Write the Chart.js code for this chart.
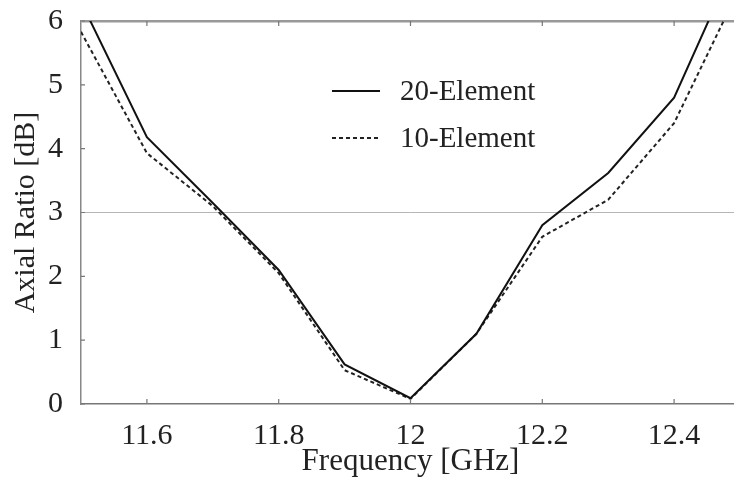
<!DOCTYPE html>
<html>
<head>
<meta charset="utf-8">
<script src="https://cdn.jsdelivr.net/npm/chart.js@4"></script>
<style>
  html, body { margin: 0; padding: 0; background: #fff; overflow: hidden; }
  #wrap { width: 742px; height: 484px; }
</style>
</head>
<body>
<div id="wrap"><canvas id="chart" width="742" height="484"></canvas></div>
<script>
const frequencies = [11.5, 11.6, 11.7, 11.8, 11.9, 12.0, 12.1, 12.2, 12.3, 12.4, 12.5];
const axialRatio20 = [6.3, 4.18, 3.15, 2.1, 0.62, 0.09, 1.1, 2.8, 3.62, 4.8, 7.1];
const axialRatio10 = [5.83, 3.93, 3.1, 2.05, 0.53, 0.08, 1.1, 2.62, 3.2, 4.4, 6.53];
const xTickValues = [11.6, 11.8, 12.0, 12.2, 12.4];
const seriesLabels = ["20-Element", "10-Element"];

const FONT = "'Liberation Serif', 'Times New Roman', serif";
const TEXT = "#222";

function toPoints(values) {
  return frequencies.map((f, i) => ({ x: f, y: values[i] }));
}

// inward tick marks on top, bottom and left edges
const innerTicks = {
  id: "innerTicks",
  afterDraw(chart) {
    const { ctx, chartArea, scales } = chart;
    ctx.save();
    ctx.strokeStyle = "#777";
    ctx.lineWidth = 1.2;
    ctx.beginPath();
    scales.x.ticks.forEach((t) => {
      const px = scales.x.getPixelForValue(t.value);
      ctx.moveTo(px, chartArea.bottom);
      ctx.lineTo(px, chartArea.bottom - 5);
      ctx.moveTo(px, chartArea.top);
      ctx.lineTo(px, chartArea.top + 5);
    });
    scales.y.ticks.forEach((t) => {
      const py = scales.y.getPixelForValue(t.value);
      ctx.moveTo(chartArea.left, py);
      ctx.lineTo(chartArea.left + 4, py);
    });
    ctx.stroke();
    ctx.restore();
  },
};

// legend drawn inside the plot
const innerLegend = {
  id: "innerLegend",
  afterDatasetsDraw(chart) {
    const ctx = chart.ctx;
    const rows = [91, 138];
    ctx.save();
    chart.data.datasets.forEach((ds, i) => {
      ctx.strokeStyle = ds.borderColor;
      ctx.lineWidth = ds.borderWidth;
      ctx.setLineDash(ds.borderDash || []);
      ctx.beginPath();
      ctx.moveTo(332, rows[i]);
      ctx.lineTo(380, rows[i]);
      ctx.stroke();
      ctx.setLineDash([]);
      ctx.fillStyle = TEXT;
      ctx.font = "29px " + FONT;
      ctx.textBaseline = "middle";
      ctx.fillText(ds.label, 400, rows[i] + 1);
    });
    ctx.restore();
  },
};

new Chart(document.getElementById("chart"), {
  type: "line",
  data: {
    datasets: [
      {
        label: seriesLabels[0],
        data: toPoints(axialRatio20),
        borderColor: "#111",
        borderWidth: 2,
        pointRadius: 0,
        tension: 0,
        fill: false,
      },
      {
        label: seriesLabels[1],
        data: toPoints(axialRatio10),
        borderColor: "#222",
        borderWidth: 2,
        borderDash: [4, 3],
        pointRadius: 0,
        tension: 0,
        fill: false,
      },
    ],
  },
  options: {
    responsive: false,
    animation: false,
    layout: { padding: { top: 21, right: 2, left: 0, bottom: 0 } },
    plugins: {
      legend: { display: false },
      tooltip: { enabled: false },
    },
    scales: {
      x: {
        type: "linear",
        min: 11.5,
        max: 12.5,
        afterBuildTicks: (scale) => {
          scale.ticks = xTickValues.map((v) => ({ value: v }));
        },
        afterFit: (scale) => {
          scale.height = 80;
          scale.paddingLeft = 0;
          scale.paddingRight = 0;
        },
        grid: { display: false, drawTicks: false },
        border: { display: true, color: "#777", width: 1.5 },
        ticks: {
          padding: 14,
          color: TEXT,
          font: { family: FONT, size: 30 },
          maxRotation: 0,
          callback: (v) => String(Math.round(v * 10) / 10),
        },
        title: {
          display: true,
          text: "Frequency [GHz]",
          color: TEXT,
          font: { family: FONT, size: 31 },
          padding: { top: 0, bottom: 4 },
        },
      },
      y: {
        min: 0,
        max: 6,
        afterFit: (scale) => {
          scale.width = 81;
          scale.paddingTop = 0;
          scale.paddingBottom = 0;
        },
        grid: {
          drawTicks: false,
          color: (c) => (c.tick.value === 3 ? "#b5b5b5" : c.tick.value === 6 ? "#999" : "rgba(0,0,0,0)"),
          lineWidth: (c) => (c.tick.value === 6 ? 2.5 : 1),
        },
        border: { display: true, color: "#888", width: 1.5 },
        ticks: {
          stepSize: 1,
          padding: 18,
          color: TEXT,
          font: { family: FONT, size: 30 },
        },
        title: {
          display: true,
          text: "Axial Ratio [dB]",
          color: TEXT,
          font: { family: FONT, size: 30 },
          padding: { top: 8, bottom: 0 },
        },
      },
    },
  },
  plugins: [innerTicks, innerLegend],
});
</script>
</body>
</html>
